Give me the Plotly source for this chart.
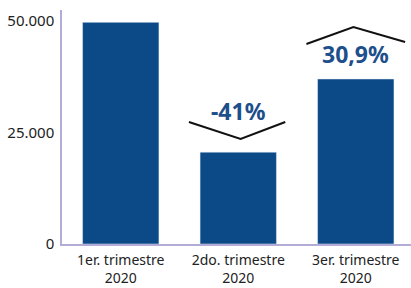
import plotly.graph_objects as go

categories = ["1er. trimestre<br>2020", "2do. trimestre<br>2020", "3er. trimestre<br>2020"]
values = [49700, 20600, 37000]
change_labels = ["", "-41%", "30,9%"]
y_ticks = [0, 25000, 50000]

BAR = "#0b4a87"
TXT = "#1c4f8c"
AXIS = "#b3acd6"

fig = go.Figure()
fig.add_trace(go.Bar(x=[0, 1, 2], y=values, marker_color=BAR, width=0.65,
                     hoverinfo="skip"))

shapes = []
annotations = []
v = values[1]
shapes.append(dict(type="path", xref="x", yref="y",
                   path=f"M 0.58 {v+6750} L 1.02 {v+2950} L 1.40 {v+6750}",
                   line=dict(color="#111111", width=2)))
annotations.append(dict(x=1, y=v + 9300, xref="x", yref="y", text="<b>" + change_labels[1] + "</b>",
                        showarrow=False, font=dict(size=23, color=TXT, family="Noto Sans")))
v = values[2]
shapes.append(dict(type="path", xref="x", yref="y",
                   path=f"M 1.58 {v+7850} L 1.98 {v+11650} L 2.42 {v+8300}",
                   line=dict(color="#111111", width=2)))
annotations.append(dict(x=2.0, y=v + 5700, xref="x", yref="y", text="<b>" + change_labels[2] + "</b>",
                        showarrow=False, font=dict(size=23, color=TXT, family="Noto Sans")))

fig.update_layout(
    width=411, height=288,
    margin=dict(l=62, r=0, t=10, b=44),
    paper_bgcolor="white", plot_bgcolor="white",
    separators=",.",
    showlegend=False,
    shapes=shapes, annotations=annotations,
    xaxis=dict(range=[-0.5, 2.47], tickvals=[0, 1, 2], ticktext=categories, automargin=False,
               showgrid=False, zeroline=False, showline=True, linecolor=AXIS, linewidth=1.5,
               tickfont=dict(family="Noto Sans", size=14, color="#222222"), ticks="",
               ticklabelstandoff=2),
    yaxis=dict(range=[0, 52470], tickvals=y_ticks, tickformat=",d", automargin=False,
               showgrid=False, zeroline=False, showline=True, linecolor=AXIS, linewidth=1.5,
               tickfont=dict(family="Noto Sans", size=15, color="#222222"), ticks="",
               ticklabelstandoff=3),
)

fig.write_html("out.html", config={"displayModeBar": False},
               post_script="document.body.style.margin='0px';document.body.style.overflow='hidden';")
